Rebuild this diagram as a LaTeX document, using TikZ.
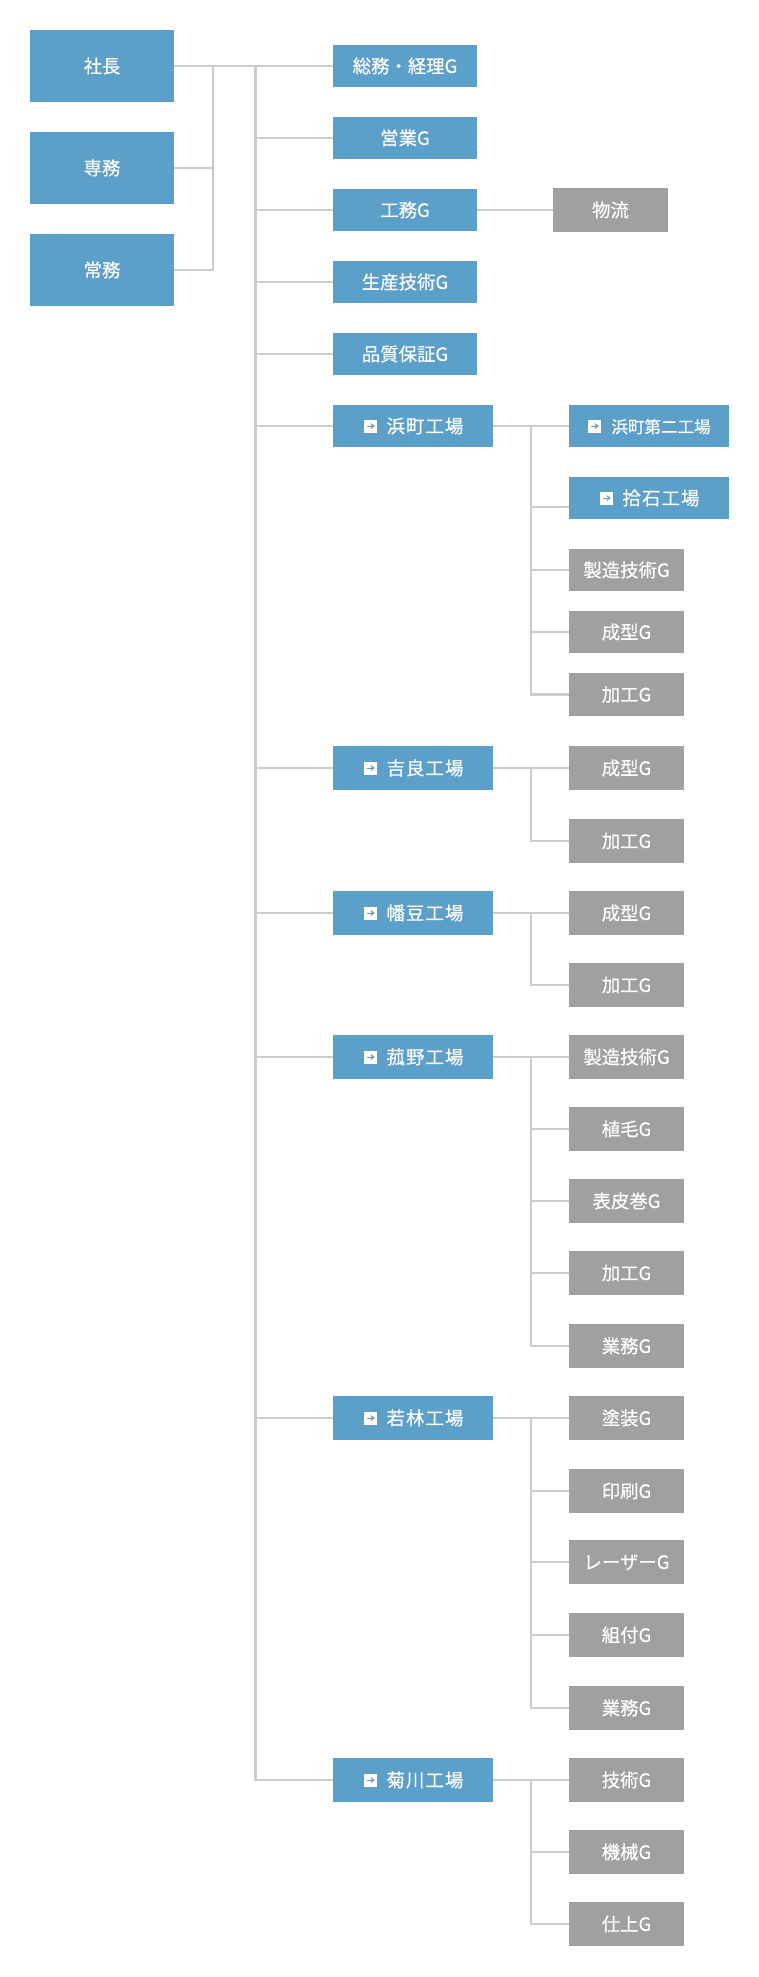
\documentclass[tikz,border=0pt]{standalone}
\usepackage{fontspec}
\usepackage{xcolor}
\usepackage{tikz}
\usetikzlibrary{arrows.meta,positioning}
\setmainfont{Noto Sans CJK JP}[FakeBold=0.35]
\newfontfamily\factoryfont{Noto Sans CJK JP}[LetterSpace=6,FakeBold=0.35]
\definecolor{orgblue}{HTML}{5C9FC9}
\definecolor{orggray}{HTML}{A0A0A0}
\definecolor{orgline}{HTML}{CCCCCC}
\newcommand{\iconpad}[1]{\hspace*{18pt}#1}

\begin{document}
\begin{tikzpicture}[
    boxbase/.style={
        inner sep=0pt,
        outer sep=0pt,
        align=center,
        text=white,
        text height=11.8pt,
        text depth=1.4pt,
        font=\fontsize{13.8pt}{16pt}\selectfont
    },
    execbox/.style={
        boxbase,
        fill=orgblue,
        minimum width=108pt,
        minimum height=54pt
    },
    deptbox/.style={
        boxbase,
        fill=orgblue,
        minimum width=108pt,
        minimum height=31.5pt
    },
    factorybox/.style={
        boxbase,
        fill=orgblue,
        minimum width=120pt,
        minimum height=33pt,
        font=\factoryfont\fontsize{13.8pt}{16pt}\selectfont
    },
    subfactorybox/.style={
        factorybox,
        font=\fontsize{12.4pt}{16pt}\selectfont
    },
    groupbox/.style={
        boxbase,
        fill=orggray,
        minimum width=86.25pt,
        minimum height=33pt
    },
    linkicon/.style={
        fill=white,
        inner sep=0pt,
        outer sep=0pt,
        minimum size=9.75pt,
        path picture={
            \draw[orgblue, line width=0.7pt, -{Stealth[length=3.2pt,width=4.6pt]}]
                ([xshift=-3pt]path picture bounding box.center) --
                ([xshift=3.2pt]path picture bounding box.center);
        }
    },
    orgconn/.style={draw=orgline, line width=1.6pt}
]
    \useasboundingbox (0,0) rectangle (569.25pt,-1482.75pt);

    \node[execbox, anchor=north west] (shacho) at (22.5pt,-22.5pt) {社長};
    \node[execbox, below=22.5pt of shacho] (senmu) {専務};
    \node[execbox, below=22.5pt of senmu] (jomu) {常務};

    \node[deptbox, right=119.25pt of shacho] (somu) {総務・経理G};
    \node[deptbox, below=22.5pt of somu] (eigyo) {営業G};
    \node[deptbox, below=22.5pt of eigyo] (komu) {工務G};
    \node[deptbox, below=22.5pt of komu] (seisan) {生産技術G};
    \node[deptbox, below=22.5pt of seisan] (hinshitsu) {品質保証G};
    \node[groupbox, right=57pt of komu] (butsuryu) {物流};

    \node[factorybox, minimum height=31.5pt, below=22.5pt of hinshitsu.south west,
        anchor=north west] (hamacho) {\iconpad{浜町工場}};
    \node[factorybox, below=224.25pt of hamacho] (kira) {\iconpad{吉良工場}};
    \node[factorybox, below=75.75pt of kira] (hazu) {\iconpad{幡豆工場}};
    \node[factorybox, below=75pt of hazu] (komono) {\iconpad{菰野工場}};
    \node[factorybox, below=237.75pt of komono] (wakabayashi) {\iconpad{若林工場}};
    \node[factorybox, below=238.5pt of wakabayashi] (kikugawa) {\iconpad{菊川工場}};

    \node[subfactorybox, minimum height=31.5pt, right=57pt of hamacho] (hamachoni)
        {\iconpad{浜町第二工場}};
    \node[factorybox, minimum height=31.5pt, below=22.5pt of hamachoni] (hiroishi)
        {\iconpad{拾石工場}};
    \node[groupbox, minimum height=31.5pt, below=22.5pt of hiroishi.south west,
        anchor=north west] (hamachoseizo) {製造技術G};
    \node[groupbox, minimum height=31.5pt, below=15pt of hamachoseizo] (hamachoseikei) {成型G};
    \node[groupbox, minimum height=32.25pt, below=15pt of hamachoseikei] (hamachokako) {加工G};

    \node[groupbox, right=57pt of kira] (kiraseikei) {成型G};
    \node[groupbox, below=21.75pt of kiraseikei] (kirakako) {加工G};

    \node[groupbox, right=57pt of hazu] (hazuseikei) {成型G};
    \node[groupbox, below=21pt of hazuseikei] (hazukako) {加工G};

    \node[groupbox, right=57pt of komono] (komonoseizo) {製造技術G};
    \node[groupbox, below=21pt of komonoseizo] (komonoshokumo) {植毛G};
    \node[groupbox, below=21pt of komonoshokumo] (komonohyohi) {表皮巻G};
    \node[groupbox, below=21pt of komonohyohi] (komonokako) {加工G};
    \node[groupbox, below=21.75pt of komonokako] (komonogyomu) {業務G};

    \node[groupbox, right=57pt of wakabayashi] (wakatoso) {塗装G};
    \node[groupbox, below=21.75pt of wakatoso] (wakainsatsu) {印刷G};
    \node[groupbox, below=20.25pt of wakainsatsu] (wakalaser) {レーザーG};
    \node[groupbox, below=21.75pt of wakalaser] (wakakumi) {組付G};
    \node[groupbox, below=21.75pt of wakakumi] (wakagyomu) {業務G};

    \node[groupbox, right=57pt of kikugawa] (kikugijutsu) {技術G};
    \node[groupbox, below=21pt of kikugijutsu] (kikukikai) {機械G};
    \node[groupbox, below=21pt of kikukikai] (kikushiage) {仕上G};

    \node[linkicon, right=23.25pt of hamacho.west] (hamachoicon) {};
    \node[linkicon, right=23.25pt of kira.west] (kiraicon) {};
    \node[linkicon, right=23.25pt of hazu.west] (hazuicon) {};
    \node[linkicon, right=23.25pt of komono.west] (komonoicon) {};
    \node[linkicon, right=23.25pt of wakabayashi.west] (wakaicon) {};
    \node[linkicon, right=23.25pt of kikugawa.west] (kikuicon) {};
    \node[linkicon, right=14.25pt of hamachoni.west] (hamachoniicon) {};
    \node[linkicon, right=23.25pt of hiroishi.west] (hiroishiicon) {};

    \coordinate[right=29.25pt of shacho.east] (execbus);
    \coordinate[right=61.1pt of shacho.east] (mainbus);
    \coordinate[right=28.5pt of hamacho.east] (hamachobus);
    \coordinate[right=28.5pt of kira.east] (kirabus);
    \coordinate[right=28.5pt of hazu.east] (hazubus);
    \coordinate[right=28.5pt of komono.east] (komonobus);
    \coordinate[right=28.5pt of wakabayashi.east] (wakabus);
    \coordinate[right=28.5pt of kikugawa.east] (kikubus);

    \draw[orgconn] (shacho) -- (somu);
    \draw[orgconn] (senmu) -| (execbus);
    \draw[orgconn] (jomu) -| (execbus);
    \draw[orgconn] (mainbus) |- (kikugawa);
    \draw[orgconn] (mainbus |- eigyo) -- (eigyo);
    \draw[orgconn] (mainbus |- komu) -- (komu);
    \draw[orgconn] (mainbus |- seisan) -- (seisan);
    \draw[orgconn] (mainbus |- hinshitsu) -- (hinshitsu);
    \draw[orgconn] (mainbus |- hamacho) -- (hamacho);
    \draw[orgconn] (mainbus |- kira) -- (kira);
    \draw[orgconn] (mainbus |- hazu) -- (hazu);
    \draw[orgconn] (mainbus |- komono) -- (komono);
    \draw[orgconn] (mainbus |- wakabayashi) -- (wakabayashi);
    \draw[orgconn] (komu) -- (butsuryu);

    \draw[orgconn] (hamacho) -- (hamachoni);
    \draw[orgconn] (hamachobus) |- (hamachokako);
    \draw[orgconn] ([yshift=-6.75pt]hamachobus |- hiroishi) -- ([yshift=-6.75pt]hiroishi.west);
    \draw[orgconn] (hamachobus |- hamachoseizo) -- (hamachoseizo);
    \draw[orgconn] (hamachobus |- hamachoseikei) -- (hamachoseikei);

    \draw[orgconn] (kira) -- (kiraseikei);
    \draw[orgconn] (kirabus) |- (kirakako);

    \draw[orgconn] (hazu) -- (hazuseikei);
    \draw[orgconn] (hazubus) |- (hazukako);

    \draw[orgconn] (komono) -- (komonoseizo);
    \draw[orgconn] (komonobus) |- (komonogyomu);
    \draw[orgconn] (komonobus |- komonoshokumo) -- (komonoshokumo);
    \draw[orgconn] (komonobus |- komonohyohi) -- (komonohyohi);
    \draw[orgconn] (komonobus |- komonokako) -- (komonokako);

    \draw[orgconn] (wakabayashi) -- (wakatoso);
    \draw[orgconn] (wakabus) |- (wakagyomu);
    \draw[orgconn] (wakabus |- wakainsatsu) -- (wakainsatsu);
    \draw[orgconn] (wakabus |- wakalaser) -- (wakalaser);
    \draw[orgconn] (wakabus |- wakakumi) -- (wakakumi);

    \draw[orgconn] (kikugawa) -- (kikugijutsu);
    \draw[orgconn] (kikubus) |- (kikushiage);
    \draw[orgconn] (kikubus |- kikukikai) -- (kikukikai);
\end{tikzpicture}
\end{document}
